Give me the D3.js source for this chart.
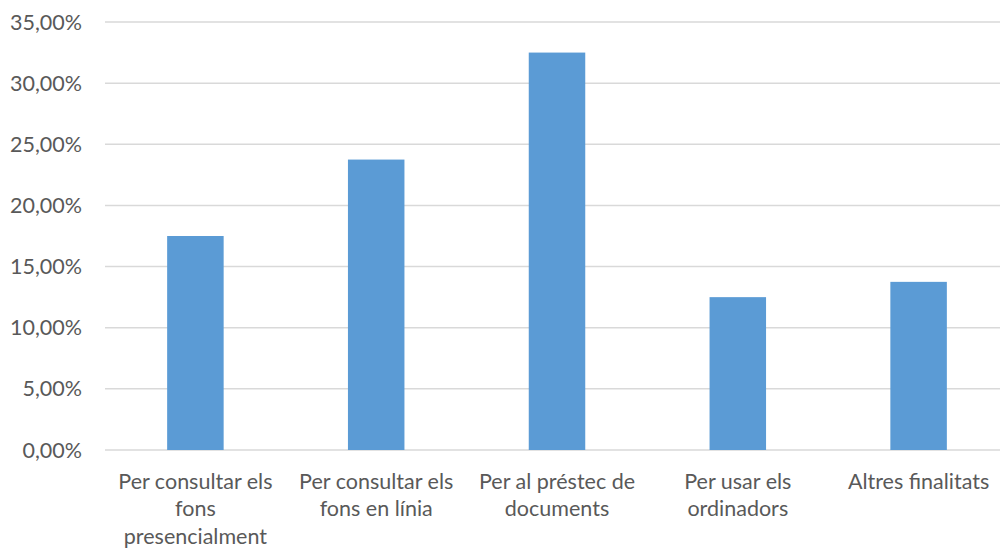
<!DOCTYPE html>
<html>
<head>
<meta charset="utf-8">
<script src="https://cdn.jsdelivr.net/npm/d3@7"></script>
<style>
    body { margin: 0; background: #fff; }
    text { font-family: Lato, "Open Sans", sans-serif; fill: #595959; }
</style>
</head>
<body>
<div id="chart"></div>
<script>

// data
let categories = [
    "Per consultar els fons presencialment",
    "Per consultar els fons en línia",
    "Per al préstec de documents",
    "Per usar els ordinadors",
    "Altres finalitats"
];
let values = [0.175, 0.2375, 0.325, 0.125, 0.1375];
let yTicks = [0, 0.05, 0.10, 0.15, 0.20, 0.25, 0.30, 0.35];

// chart size
let width = 1000, height = 550;

let svg = d3.select("#chart").append("svg")
    .attr("width", width)
    .attr("height", height);

// scales
let x = d3.scaleBand()
    .domain(categories)
    .range([105, 1009])
    .paddingInner(0.6875)
    .paddingOuter(0.34375);

let y = d3.scaleLinear()
    .domain([0, 0.35])
    .range([450, 22]);

// percent format with comma as decimal mark
let fmt = d => d3.format(".2f")(d * 100).replace(".", ",") + "%";

// gridlines
svg.append("g")
    .attr("class", "grid")
    .selectAll("line")
    .data(yTicks)
    .enter()
    .append("line")
    .attr("x1", 105)
    .attr("x2", 1009)
    .attr("y1", d => y(d))
    .attr("y2", d => y(d))
    .attr("stroke", "#d9d9d9")
    .attr("stroke-width", 1.5);

// y axis labels
svg.append("g")
    .attr("class", "y-labels")
    .selectAll("text")
    .data(yTicks)
    .enter()
    .append("text")
    .attr("x", 82)
    .attr("y", d => y(d))
    .attr("dy", "0.35em")
    .attr("text-anchor", "end")
    .style("font-size", "21.5px")
    .text(fmt);

// bars
svg.append("g")
    .attr("class", "bars")
    .selectAll("rect")
    .data(values)
    .enter()
    .append("rect")
    .attr("x", (d, i) => x(categories[i]))
    .attr("width", x.bandwidth())
    .attr("y", d => y(d))
    .attr("height", d => y(0) - y(d))
    .attr("fill", "#5b9bd5");

// x labels, wrapped to the band width
let xLabels = svg.append("g")
    .attr("class", "x-labels")
    .selectAll("text")
    .data(categories)
    .enter()
    .append("text")
    .attr("text-anchor", "middle")
    .style("font-size", "21.5px")
    .attr("transform", d => `translate(${x(d) + x.bandwidth() / 2}, 481)`);

xLabels.each(function(d) {
    let text = d3.select(this);
    let words = d.split(" ");
    let lines = [];
    let line = [];
    let tspan = text.append("tspan");
    words.forEach(w => {
        line.push(w);
        tspan.text(line.join(" "));
        if (tspan.node().getComputedTextLength() > 172 && line.length > 1) {
            line.pop();
            lines.push(line.join(" "));
            line = [w];
        }
    });
    lines.push(line.join(" "));
    tspan.remove();

    lines.forEach((l, i) => {
        text.append("tspan")
            .attr("x", 0)
            .attr("y", i * 27.5)
            .attr("dy", "0.35em")
            .text(l);
    });
});

</script>
</body>
</html>
